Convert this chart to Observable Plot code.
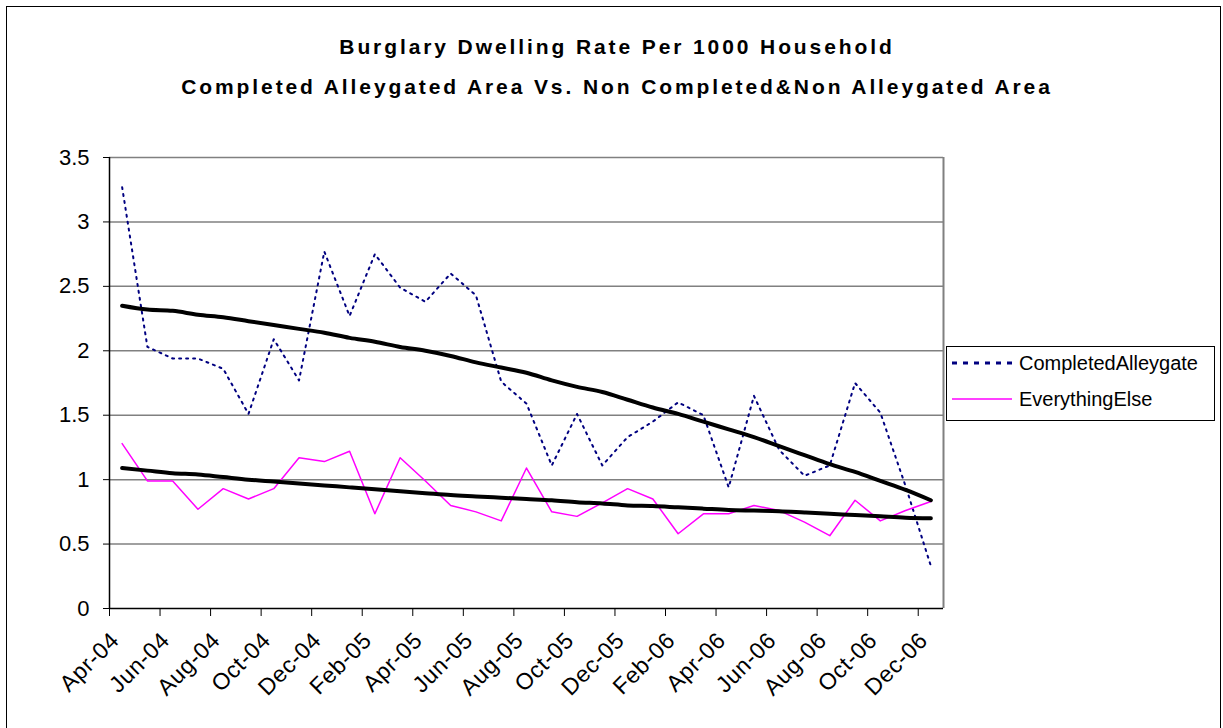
<!DOCTYPE html>
<html><head><meta charset="utf-8">
<script src="https://cdn.jsdelivr.net/npm/d3@7"></script>
<script src="https://cdn.jsdelivr.net/npm/@observablehq/plot@0.6"></script>
<style>
body{margin:0;background:#fff;font-family:Arial,"Liberation Sans",sans-serif;}
#wrap{position:relative;width:1223px;height:728px;overflow:hidden;background:#fff;}
#frame{position:absolute;left:6px;top:6px;width:1215px;height:800px;border:1.5px solid #000;box-sizing:border-box;}
#chart{position:absolute;left:0;top:0;}
#title{position:absolute;left:3px;top:27px;width:1228px;text-align:center;font-weight:bold;font-size:21px;line-height:40px;letter-spacing:2.9px;color:#000;}
#legend{position:absolute;left:946px;top:346px;width:269px;height:75px;border:1.5px solid #000;box-sizing:border-box;font-size:20px;}
.row{position:absolute;left:4px;height:30px;display:flex;align-items:center;}
.row svg{margin-right:6px;}
.xl text{letter-spacing:0.6px;}
</style>
</head><body>
<div id="wrap">
  <div id="frame"></div>
  <div id="chart"></div>
  <div id="title"></div>
  <div id="legend"></div>
</div>
<script>
// ---- data ----
const titleLines = ["Burglary Dwelling Rate Per 1000 Household", "Completed Alleygated Area Vs. Non Completed&Non Alleygated Area"];
const seriesNames = ["CompletedAlleygate", "EverythingElse"];
const months = ["Apr-04","May-04","Jun-04","Jul-04","Aug-04","Sep-04","Oct-04","Nov-04","Dec-04","Jan-05","Feb-05","Mar-05",
  "Apr-05","May-05","Jun-05","Jul-05","Aug-05","Sep-05","Oct-05","Nov-05","Dec-05","Jan-06","Feb-06","Mar-06",
  "Apr-06","May-06","Jun-06","Jul-06","Aug-06","Sep-06","Oct-06","Nov-06","Dec-06"];
const completed = [3.27, 2.03, 1.94, 1.94, 1.86, 1.51, 2.09, 1.77, 2.77, 2.27, 2.75, 2.49, 2.38, 2.60, 2.43, 1.76, 1.59,
  1.11, 1.51, 1.11, 1.33, 1.45, 1.60, 1.50, 0.94, 1.65, 1.23, 1.03, 1.11, 1.75, 1.52, 0.95, 0.33];
const everything = [1.28, 0.99, 0.99, 0.77, 0.93, 0.85, 0.93, 1.17, 1.14, 1.22, 0.735, 1.17, 0.99, 0.80, 0.75, 0.68, 1.09,
  0.75, 0.715, 0.82, 0.93, 0.85, 0.58, 0.735, 0.735, 0.80, 0.76, 0.67, 0.565, 0.84, 0.68, 0.76, 0.83];
const trendCompleted = [2.35, 2.32, 2.31, 2.28, 2.26, 2.23, 2.20, 2.17, 2.14, 2.10, 2.07, 2.03, 2.00, 1.96, 1.91, 1.87, 1.83,
  1.77, 1.72, 1.68, 1.62, 1.56, 1.51, 1.45, 1.39, 1.33, 1.26, 1.19, 1.12, 1.06, 0.99, 0.92, 0.84];
const trendEverything = [1.09, 1.07, 1.05, 1.04, 1.02, 1.00, 0.985, 0.97, 0.955, 0.94, 0.925, 0.91, 0.895, 0.88, 0.87, 0.86, 0.85,
  0.84, 0.825, 0.815, 0.80, 0.795, 0.785, 0.775, 0.765, 0.76, 0.755, 0.745, 0.735, 0.725, 0.715, 0.705, 0.70];
const yTicks = [0, 0.5, 1, 1.5, 2, 2.5, 3, 3.5];
const colors = ["#000080", "#ff00ff"];

// ---- build ----
const rows = months.map((m, i) => ({i, m, completed: completed[i], everything: everything[i], tc: trendCompleted[i], te: trendEverything[i]}));
const n = months.length;
const boundaryTicks = d3.range(-0.5, n - 1, 2);
const labelIdx = d3.range(0, n, 2);

const chart = Plot.plot({
  width: 1223, height: 728,
  marginLeft: 109, marginRight: 280, marginTop: 157, marginBottom: 120,
  style: {fontFamily: 'Arial, "Liberation Sans", sans-serif', background: "transparent", color: "#000", overflow: "visible"},
  x: {domain: [-0.5, n - 0.5], axis: null, label: null},
  y: {domain: [0, 3.5], axis: null, label: null},
  marks: [
    Plot.gridY(yTicks.filter(d => d > 0), {stroke: "#808080", strokeOpacity: 1, strokeWidth: 1.5}),
    Plot.ruleX([n - 0.5], {stroke: "#808080", strokeWidth: 2}),
    Plot.line(rows, {x: "i", y: "completed", stroke: colors[0], strokeWidth: 2, strokeDasharray: "2,5"}),
    Plot.line(rows, {x: "i", y: "everything", stroke: colors[1], strokeWidth: 1.5}),
    Plot.line(rows, {x: "i", y: "tc", stroke: "#000", strokeWidth: 4, curve: "monotone-x"}),
    Plot.line(rows, {x: "i", y: "te", stroke: "#000", strokeWidth: 4, curve: "monotone-x"}),
    Plot.ruleY([0], {stroke: "#000", strokeWidth: 1.5}),
    Plot.ruleX([-0.5], {stroke: "#000", strokeWidth: 1.5}),
    Plot.axisY(yTicks, {tickSize: 6, tickPadding: 14, fontSize: 22, tickFormat: d => String(d), stroke: "#000", label: null}),
    Plot.axisX(boundaryTicks, {tickSize: 8, tickFormat: () => "", stroke: "#000", label: null}),
    Plot.axisX(labelIdx, {tickSize: 0, tickPadding: 28, tickRotate: -45, fontSize: 23, dx: -7, className: "xl", tickFormat: i => months[i], label: null})
  ]
});
document.getElementById("chart").appendChild(chart);

// title
const t = document.getElementById("title");
titleLines.forEach(s => { const d = document.createElement("div"); d.textContent = s; t.appendChild(d); });

// legend
const lg = document.getElementById("legend");
seriesNames.forEach((name, k) => {
  const r = document.createElement("div");
  r.className = "row";
  r.style.top = (k === 0 ? 1 : 37) + "px";
  const dash = k === 0 ? 'stroke-dasharray="5,6" stroke-width="3"' : 'stroke-width="1.5"';
  r.innerHTML = `<svg width="62" height="10"><line x1="1" x2="61" y1="5" y2="5" stroke="${colors[k]}" ${dash}/></svg><span>${name}</span>`;
  lg.appendChild(r);
});
</script>
</body></html>
